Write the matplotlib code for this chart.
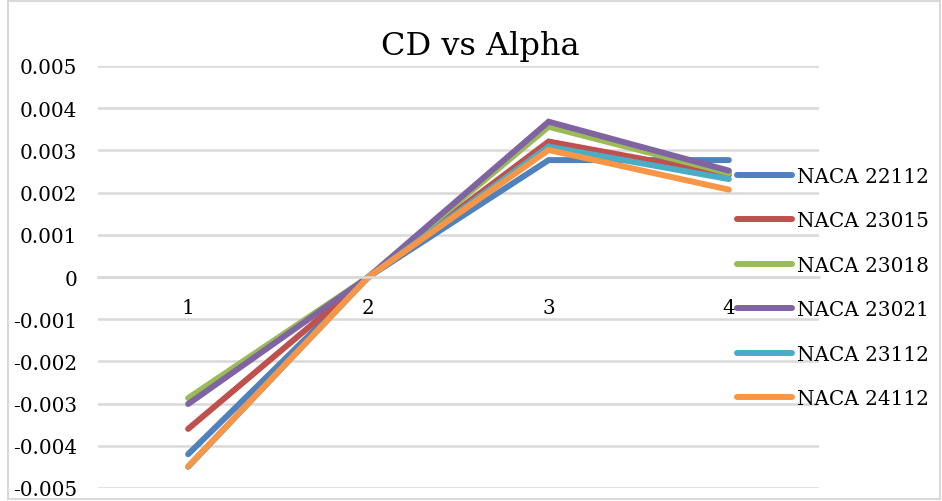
import matplotlib
matplotlib.use("Agg")
import matplotlib.pyplot as plt

plt.rcParams['font.family'] = ['DejaVu Serif']

alpha = [1, 2, 3, 4]
naca_22112 = [-0.00420, 0.0, 0.00277, 0.00277]
naca_23015 = [-0.00360, 0.0, 0.00321, 0.00242]
naca_23018 = [-0.00287, 0.0, 0.00356, 0.00246]
naca_23021 = [-0.00301, 0.0, 0.00368, 0.00252]
naca_23112 = [-0.00450, 0.0, 0.00309, 0.00232]
naca_24112 = [-0.00449, 0.0, 0.00301, 0.00207]

series = [
    ("NACA 22112", naca_22112, "#4F81BD"),
    ("NACA 23015", naca_23015, "#C0504D"),
    ("NACA 23018", naca_23018, "#9BBB59"),
    ("NACA 23021", naca_23021, "#8064A2"),
    ("NACA 23112", naca_23112, "#4BACC6"),
    ("NACA 24112", naca_24112, "#F79646"),
]

W, H = 942, 502
fig = plt.figure(figsize=(W / 100, H / 100), dpi=100)

# plot area in pixel terms
left, right, top, bottom = 98, 819, 67, 489
ax = fig.add_axes([left / W, 1 - bottom / H, (right - left) / W, (bottom - top) / H])

for name, vals, col in series:
    ax.plot(alpha, vals, color=col, lw=4.3, label=name,
            solid_capstyle='round', solid_joinstyle='miter')

ax.set_xlim(0.5, 4.5)
ax.set_ylim(-0.005, 0.005)
ax.set_yticks([i / 1000 for i in range(-5, 6)])
ax.set_yticklabels(['-0.005', '-0.004', '-0.003', '-0.002', '-0.001', '0',
                    '0.001', '0.002', '0.003', '0.004', '0.005'])
ax.set_xticks(alpha)
ax.set_xticklabels([str(a) for a in alpha])

grid_col = '#D9D9D9'
ax.yaxis.grid(True, color=grid_col, lw=1.8)
ax.set_axisbelow(True)
for s in ['top', 'right', 'left']:
    ax.spines[s].set_visible(False)
ax.spines['bottom'].set_position(('data', 0))
ax.spines['bottom'].set_color(grid_col)
ax.spines['bottom'].set_linewidth(1.8)
ax.tick_params(axis='y', length=0, pad=15, labelsize=14.4)
ax.tick_params(axis='x', length=0, pad=15, labelsize=14.4)

fig.text(480 / W, 1 - 46 / H, "CD vs Alpha", fontsize=23, ha='center', va='center')

ax.legend(loc='upper left', bbox_to_anchor=(737 / W, 1 - 168 / H),
          bbox_transform=fig.transFigure, frameon=False, fontsize=14.4,
          handlelength=2.75, handletextpad=0.25, labelspacing=1.27,
          borderpad=0, borderaxespad=0)

# light chart border
fig.add_artist(plt.Rectangle((0.008, 0.004), 0.99, 0.992, transform=fig.transFigure,
                             fill=False, edgecolor=grid_col, lw=1.5))

fig.savefig("out.png", dpi=100)
